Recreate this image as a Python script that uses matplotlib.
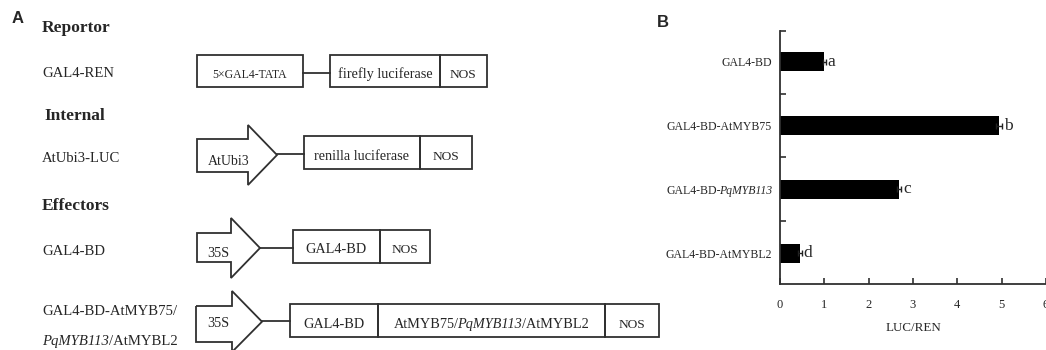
import matplotlib
matplotlib.use("Agg")
import matplotlib.pyplot as plt
from matplotlib.patches import Rectangle, Polygon

# ---- data for the luciferase assay (panel B) ----
constructs = ["GAL4-BD", "GAL4-BD-AtMYB75", "GAL4-BD-PqMYB113", "GAL4-BD-AtMYBL2"]
luc_ren = [1.00, 4.94, 2.69, 0.45]
luc_err = [0.03, 0.06, 0.05, 0.04]
groups = ["a", "b", "c", "d"]
x_ticks = [0, 1, 2, 3, 4, 5, 6]

SERIF = "Liberation Serif"
SANS = "Liberation Sans"
TXT = "#262626"
LINE = "#303030"

W, H = 1046, 350
fig = plt.figure(figsize=(W / 100, H / 100), dpi=100)
renderer = fig.canvas.get_renderer()

# full-figure canvas in pixel units for the construct diagrams
cv = fig.add_axes([0, 0, 1, 1])
cv.set_xlim(0, W)
cv.set_ylim(H, 0)
cv.axis("off")


def text(x, y, s, size=10.3, weight="normal", style="normal", ha="left",
         family=SERIF):
    return cv.text(x, y, s, fontsize=size, fontweight=weight, fontstyle=style,
                   ha=ha, va="baseline", family=family, color=TXT)


def rich(x, y, pieces, size=10.3, ha="left"):
    """Draw a run of roman/italic pieces on one baseline."""
    items = [cv.text(0, y, s, fontsize=size, fontstyle=st, family=SERIF,
                     ha="left", va="baseline", color=TXT) for s, st in pieces]
    # italic pieces sit a little tighter against the preceding slash
    kern = [(-2.0 if (st == "italic" and i > 0) else 0.0)
            for i, (s, st) in enumerate(pieces)]
    widths = [t.get_window_extent(renderer).width for t in items]
    total = sum(widths) + sum(kern)
    start = {"left": x, "center": x - total / 2, "right": x - total}[ha]
    for t, w, k in zip(items, widths, kern):
        start += k
        t.set_x(start)
        start += w


def boxes(edges, y0, y1):
    for a, b in zip(edges[:-1], edges[1:]):
        cv.add_patch(Rectangle((a, y0), b - a, y1 - y0, fill=False,
                               ec=LINE, lw=1.3))


def arrow(x0, xb, xt, body, head, yc):
    pts = [(x0, body[0]), (xb, body[0]), (xb, head[0]), (xt, yc),
           (xb, head[1]), (xb, body[1]), (x0, body[1])]
    cv.add_patch(Polygon(pts, closed=True, fill=False, ec=LINE, lw=1.3))


def link(x0, x1, y):
    cv.plot([x0, x1], [y, y], color=LINE, lw=1.3)


# panel letters
text(11.7, 23.3, "A", size=12, weight="bold", family=SANS)
text(656.7, 26.7, "B", size=12, weight="bold", family=SANS)

# section headings and construct names
text(42, 31.7, "Reportor", size=12.5, weight="bold")
text(42, 77.3, "GAL4-REN", size=10.6)
text(44, 120, "Internal", size=12.5, weight="bold")
text(42, 161.7, "AtUbi3-LUC", size=10.6)
text(42, 210, "Effectors", size=12.5, weight="bold")
text(42, 255, "GAL4-BD", size=10.6)
text(42, 315, "GAL4-BD-AtMYB75/", size=10.6)
rich(42, 345, [("PqMYB113", "italic"), ("/AtMYBL2", "normal")], size=10.6)

# reporter: 5xGAL4-TATA -- firefly luciferase | NOS
boxes([197, 303], 55, 87)
link(303, 330, 72.5)
boxes([330, 440, 487], 55, 87)
text(250, 77.5, "5×GAL4-TATA", size=8.5, ha="center")
text(385, 78, "firefly luciferase", ha="center")
text(463.5, 78, "NOS", size=9.6, ha="center")

# internal control: AtUbi3 promoter -- renilla luciferase | NOS
arrow(197, 248, 277, (139, 172), (125, 185), 155)
link(277, 304, 154)
boxes([304, 420, 472], 136, 169)
text(208, 165, "AtUbi3", size=10)
text(362, 160, "renilla luciferase", ha="center")
text(446, 160, "NOS", size=9.6, ha="center")

# effector: 35S -- GAL4-BD | NOS
arrow(197, 231, 260, (233, 262), (218, 278), 248)
link(260, 293, 247.5)
boxes([293, 380, 430], 230, 263)
text(207, 256.7, "35S", size=10.3)
text(336.5, 253.3, "GAL4-BD", ha="center")
text(405, 253.3, "NOS", size=9.6, ha="center")

# effectors: 35S -- GAL4-BD | TF | NOS
arrow(196, 232, 262, (306, 342), (291, 352), 321.7)
link(262, 290, 321)
boxes([290, 378, 605, 659], 304, 337)
text(207, 327, "35S", size=10.3)
text(334, 327.5, "GAL4-BD", ha="center")
rich(491.5, 328, [("AtMYB75/", "normal"), ("PqMYB113", "italic"),
                  ("/AtMYBL2", "normal")], ha="center")
text(632, 327.5, "NOS", size=9.6, ha="center")

# ---- panel B: LUC/REN bar chart ----
left, right, top, bottom = 780, 1046, 31, 284
ax = fig.add_axes([left / W, 1 - bottom / H, (right - left) / W,
                   (bottom - top) / H])
ax.set_facecolor("none")
pos = list(range(len(constructs)))
ax.barh(pos, luc_ren, height=0.3, color="black", xerr=luc_err,
        error_kw=dict(ecolor="#222222", elinewidth=1, capsize=2, capthick=1))
for i, (v, e, g) in enumerate(zip(luc_ren, luc_err, groups)):
    ax.annotate(g, xy=(v + e, i), xytext=(1.5, 0), textcoords="offset points",
                ha="left", va="center", fontsize=12.5, family=SERIF, color=TXT)

ax.set_xlim(0, 6)
ax.set_ylim(3.48, -0.48)
ax.set_xticks(x_ticks)
ax.set_xticklabels([str(t) for t in x_ticks], family=SERIF, fontsize=9,
                   color=TXT)
ax.set_yticks(pos)
ax.set_yticklabels(["" if "Pq" in c else c for c in constructs],
                   family=SERIF, fontsize=8.5, color=TXT)
ax.set_yticks([-0.48, 0.5, 1.5, 2.5], minor=True)
ax.tick_params(axis="y", which="major", length=0, pad=6)
ax.tick_params(axis="y", which="minor", direction="in", length=4,
               width=1.2, color=LINE)
ax.tick_params(axis="x", direction="in", length=4, width=1.2, color=LINE,
               pad=10.5)
ax.set_xlabel("LUC/REN", family=SERIF, fontsize=9.4, color=TXT, labelpad=8)
for s in ("top", "right"):
    ax.spines[s].set_visible(False)
for s in ("left", "bottom"):
    ax.spines[s].set_color(LINE)
    ax.spines[s].set_linewidth(1.3)

# construct label with the italic gene name, placed beside its bar
y_disp = ax.transData.transform((0, 2))[1]
rich(left - 8, H - y_disp + 4.3,
     [("GAL4-BD-", "normal"), ("PqMYB113", "italic")], size=8.5, ha="right")

fig.savefig("out.png", dpi=100)
